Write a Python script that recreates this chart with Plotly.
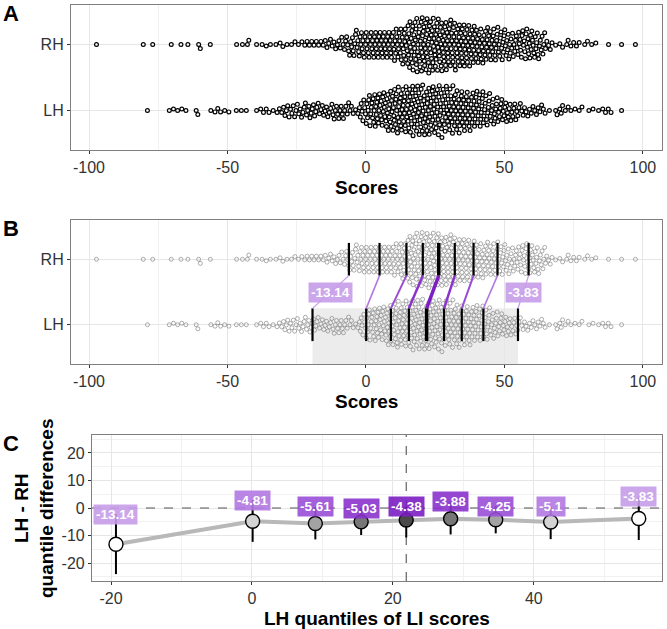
import math
import numpy as np
import plotly.graph_objects as go

# ---------------- data ----------------
groups = ["LH", "RH"]

# individual points in the sparse tails
rh_tail_left = [-97.3, -80.4, -77.0, -70.3, -66.8, -64.3, -60.4, -59.8, -56.2, -46.7, -44.6,
                -42.8, -42.3, -39.5, -37.5, -36.0, -34.5, -32.5, -31.0, -30.0, -28.5]
rh_tail_right = [68.5, 70.0, 71.0, 72.5, 73.0, 74.0, 75.0, 76.0, 77.0, 79.0, 80.0, 81.5, 83.0,
                 87.6, 92.3, 97.3]
lh_tail_left = [-78.9, -71.0, -69.5, -68.0, -66.5, -65.0, -61.3, -60.7, -56.0, -54.5, -53.5,
                -52.5, -51.0, -49.5, -46.8, -45.0, -43.2, -39.5, -38.0, -37.0, -36.0, -35.0, -33.5]
lh_tail_right = [68.5, 69.0, 70.0, 70.5, 71.0, 72.0, 73.0, 74.0, 75.5, 77.0, 78.0, 80.5, 82.0,
                 84.0, 85.5, 86.5, 87.5, 88.5, 92.3]

# dense core: counts of points per 2.5-wide score bin, bins start at -32.5
core_bin_start = -32.5
core_bin_width = 2.5
rh_core_counts = [0, 0, 2, 2, 3, 3, 3, 4, 4, 5, 7, 9, 10, 10, 11, 11, 11, 12, 14, 18,
                  19, 20, 20, 19, 19, 18, 17, 16, 15, 13, 13, 12, 11, 10, 9, 10, 11, 10, 8, 4]
lh_core_counts = [3, 5, 5, 5, 6, 6, 5, 5, 6, 6, 5, 3, 8, 11, 13, 13, 15, 17, 17, 18,
                  18, 18, 18, 18, 17, 17, 16, 15, 14, 13, 11, 10, 9, 8, 7, 5, 4, 4, 4, 1]

# shift function (panel C)
lh_deciles = [-19.3, 0.1, 9.0, 15.5, 21.9, 28.2, 34.6, 42.4, 54.9]
differences = [-13.14, -4.81, -5.61, -5.03, -4.38, -3.88, -4.25, -5.1, -3.83]
ci_lower = [-24.0, -12.3, -11.4, -9.8, -10.7, -9.6, -9.2, -11.3, -11.6]
ci_upper = [-2.2, 2.9, 0.4, 0.0, 0.4, 2.2, 0.7, 0.4, 4.0]
diff_labels = ["-13.14", "-4.81", "-5.61", "-5.03", "-4.38", "-3.88", "-4.25", "-5.1", "-3.83"]

x_ticks_ab = [-100, -50, 0, 50, 100]
x_ticks_c = [-20, 0, 20, 40]
y_ticks_c = [-20, -10, 0, 10, 20]

# ---------------- styles ----------------
FONT = "Liberation Sans, Arial, sans-serif"
W, H = 667, 629
label_cols = ["#c69ce9", "#b279e2", "#9a4ed6", "#8b33cd", "#7c1ec3",
              "#8b33cd", "#9a4ed6", "#b279e2", "#c69ce9"]
point_fills = ["#ffffff", "#d3d3d3", "#a3a3a3", "#777777", "#4a4a4a",
               "#777777", "#a3a3a3", "#d3d3d3", "#ffffff"]
purple_widths = [1.3, 1.6, 2.0, 2.5, 3.5, 2.5, 2.0, 1.6, 1.3]


def rgba(hx, a):
    hx = hx.lstrip("#")
    return "rgba(%d,%d,%d,%.2f)" % (int(hx[0:2], 16), int(hx[2:4], 16), int(hx[4:6], 16), a)


def expand(counts, left, right):
    vals = list(left)
    for i, n in enumerate(counts):
        lo = core_bin_start + i * core_bin_width
        for j in range(n):
            vals.append(lo + (j + 0.5) * core_bin_width / n)
    vals += list(right)
    return np.array(vals)


rh_scores = expand(rh_core_counts, rh_tail_left, rh_tail_right)
lh_scores = expand(lh_core_counts, lh_tail_left, lh_tail_right)
rh_deciles = [l - d for l, d in zip(lh_deciles, differences)]

# axis geometry (pixels)
XA0, XA1 = 71, 662
XRANGE_AB = [-106.5, 106.9]
XRANGE_C = [-22.7, 58.2]
YRANGE_C = [-26.5, 26.5]
SX = (XA1 - XA0) / (XRANGE_AB[1] - XRANGE_AB[0])
PANEL_A = (5, 150)
PANEL_B = (220, 364)
PANEL_C = (435, 581)
XC0 = 92


def beeswarm(values, d, sx):
    order = np.argsort(values, kind="stable")
    xs = np.asarray(values)[order] * sx
    px_l, py_l = [], []
    offs = np.zeros(len(xs))
    for k, x in enumerate(xs):
        nb = [(px, py) for px, py in zip(px_l[-120:], py_l[-120:]) if abs(px - x) < d]
        cands = [0.0]
        for px, py in nb:
            dy = math.sqrt(max(d * d - (px - x) ** 2, 0.0))
            cands += [py + dy, py - dy]
        sgn = 1 if k % 2 else -1
        cands.sort(key=lambda c: (round(abs(c), 6), sgn * c))
        chosen = 0.0
        for c in cands:
            if all((px - x) ** 2 + (py - c) ** 2 >= d * d - 1e-6 for px, py in nb):
                chosen = c
                break
        px_l.append(x)
        py_l.append(chosen)
        offs[order[k]] = chosen
    return offs


D = 4.4
rh_off = beeswarm(rh_scores, D, SX)
lh_off = beeswarm(lh_scores, D, SX)

fig = go.Figure()

for panel, (t, b) in (("", PANEL_A), ("2", PANEL_B)):
    py_unit = (b - t) / 2.2
    if panel == "":
        mk = dict(size=3.8, color="white", line=dict(color="black", width=1.2))
    else:
        mk = dict(size=4.0, color="rgba(255,255,255,0)", line=dict(color="rgba(105,105,105,0.6)", width=0.9))
    for scores, off, row in ((rh_scores, rh_off, 2), (lh_scores, lh_off, 1)):
        fig.add_trace(go.Scatter(x=scores, y=row + off / py_unit, mode="markers", marker=mk,
                                 xaxis="x" + panel, yaxis="y" + panel, hoverinfo="skip",
                                 showlegend=False))

# panel B decile lines and links
for i in range(9):
    w = 3.5 if i == 4 else 2.2
    fig.add_trace(go.Scatter(x=[rh_deciles[i], rh_deciles[i], None, lh_deciles[i], lh_deciles[i]],
                             y=[1.75, 2.25, None, 0.75, 1.25], mode="lines",
                             line=dict(color="black", width=w), xaxis="x2", yaxis="y2",
                             showlegend=False, hoverinfo="skip"))
    fig.add_trace(go.Scatter(x=[rh_deciles[i], lh_deciles[i]], y=[1.75, 1.25], mode="lines",
                             line=dict(color=label_cols[i], width=purple_widths[i]),
                             xaxis="x2", yaxis="y2", showlegend=False, hoverinfo="skip"))

# panel C: reference lines (zero difference, LH median)
fig.add_trace(go.Scatter(x=XRANGE_C, y=[0, 0], mode="lines",
                         line=dict(color="#555555", width=1.1, dash="dash"),
                         xaxis="x3", yaxis="y3", showlegend=False, hoverinfo="skip"))
fig.add_trace(go.Scatter(x=[lh_deciles[4], lh_deciles[4]], y=YRANGE_C, mode="lines",
                         line=dict(color="#555555", width=1.1, dash="dash"),
                         xaxis="x3", yaxis="y3", showlegend=False, hoverinfo="skip"))
fig.add_trace(go.Scatter(x=lh_deciles, y=differences, mode="lines",
                         line=dict(color="#b8b8b8", width=4), xaxis="x3", yaxis="y3",
                         showlegend=False, hoverinfo="skip"))
ex, ey = [], []
for q, lo, hi in zip(lh_deciles, ci_lower, ci_upper):
    ex += [q, q, None]
    ey += [lo, hi, None]
fig.add_trace(go.Scatter(x=ex, y=ey, mode="lines", line=dict(color="black", width=2),
                         xaxis="x3", yaxis="y3", showlegend=False, hoverinfo="skip"))
fig.add_trace(go.Scatter(x=lh_deciles, y=differences, mode="markers",
                         marker=dict(size=14, color=point_fills, line=dict(color="black", width=1.4)),
                         xaxis="x3", yaxis="y3", showlegend=False, hoverinfo="skip"))

annotations = []
lab_font = dict(family=FONT, size=13.5, color="white")
for i in (0, 8):
    annotations.append(dict(x=(rh_deciles[i] + lh_deciles[i]) / 2, y=1.5, xref="x2", yref="y2",
                            text="<b>%s</b>" % diff_labels[i], showarrow=False, font=lab_font,
                            bgcolor=rgba(label_cols[i], 0.9), borderpad=2))
for i in range(9):
    annotations.append(dict(x=lh_deciles[i], y=ci_upper[i], xref="x3", yref="y3",
                            text="<b>%s</b>" % diff_labels[i], showarrow=False, font=lab_font,
                            bgcolor=rgba(label_cols[i], 0.9), borderpad=2))

title_font = dict(family=FONT, size=19, color="black")
for txt, x, y in (("Scores", (XA0 + XA1) / 2, 187.5), ("Scores", (XA0 + XA1) / 2, 401.5),
                  ("LH quantiles of LI scores", (XC0 + XA1) / 2, 618)):
    annotations.append(dict(x=x / W, y=1 - y / H, xref="paper", yref="paper", showarrow=False,
                            text="<b>%s</b>" % txt, font=title_font, xanchor="center", yanchor="middle"))
annotations.append(dict(x=34 / W, y=1 - 508 / H, xref="paper", yref="paper", showarrow=False,
                        text="<b>LH - RH</b><br><b>quantile differences</b>", font=title_font,
                        textangle=-90, xanchor="center", yanchor="middle"))
for letter, y in (("A", 13), ("B", 228), ("C", 443)):
    annotations.append(dict(x=11 / W, y=1 - y / H, xref="paper", yref="paper", showarrow=False,
                            text="<b>%s</b>" % letter, font=dict(family=FONT, size=22, color="black"),
                            xanchor="center", yanchor="middle"))

shapes = [
    dict(type="rect", xref="x2", yref="y2", x0=lh_deciles[0], x1=lh_deciles[-1], y0=0.4, y1=1.25,
         fillcolor="#ececec", line=dict(width=0), layer="below"),
]

axis_common = dict(showline=True, linecolor="#7f7f7f", linewidth=1.2, mirror=True,
                   ticks="outside", ticklen=3, tickcolor="#333333", tickwidth=1,
                   tickfont=dict(family=FONT, size=16, color="#333333"),
                   gridcolor="#e6e6e6", gridwidth=1, zeroline=False, fixedrange=True)


def xab(dom_anchor):
    return dict(axis_common, domain=[XA0 / W, XA1 / W], range=XRANGE_AB, anchor=dom_anchor,
                tickvals=x_ticks_ab, ticktext=[str(v) for v in x_ticks_ab],
                minor=dict(tickvals=[-75, -25, 25, 75], showgrid=True, gridcolor="#f1f1f1",
                           gridwidth=0.6, ticks=""))


def yab(t, b, anchor):
    return dict(axis_common, domain=[1 - b / H, 1 - t / H], range=[0.4, 2.6], anchor=anchor,
                tickvals=[1, 2], ticktext=groups)


fig.update_layout(
    width=W, height=H, margin=dict(l=0, r=0, t=0, b=0),
    paper_bgcolor="white", plot_bgcolor="white",
    xaxis=xab("y"), yaxis=yab(*PANEL_A, "x"),
    xaxis2=xab("y2"), yaxis2=yab(*PANEL_B, "x2"),
    xaxis3=dict(axis_common, domain=[XC0 / W, XA1 / W], range=XRANGE_C, anchor="y3",
                tickvals=x_ticks_c, ticktext=[str(v) for v in x_ticks_c],
                minor=dict(tickvals=[-10, 10, 30, 50], showgrid=True, gridcolor="#f1f1f1",
                           gridwidth=0.6, ticks="")),
    yaxis3=dict(axis_common, domain=[1 - PANEL_C[1] / H, 1 - PANEL_C[0] / H], range=YRANGE_C,
                anchor="x3", tickvals=y_ticks_c, ticktext=[str(v) for v in y_ticks_c],
                minor=dict(tickvals=[-25, -15, -5, 5, 15, 25], showgrid=True, gridcolor="#f1f1f1",
                           gridwidth=0.6, ticks="")),
    annotations=annotations, shapes=shapes, showlegend=False,
)

fig.write_html("out.html")
